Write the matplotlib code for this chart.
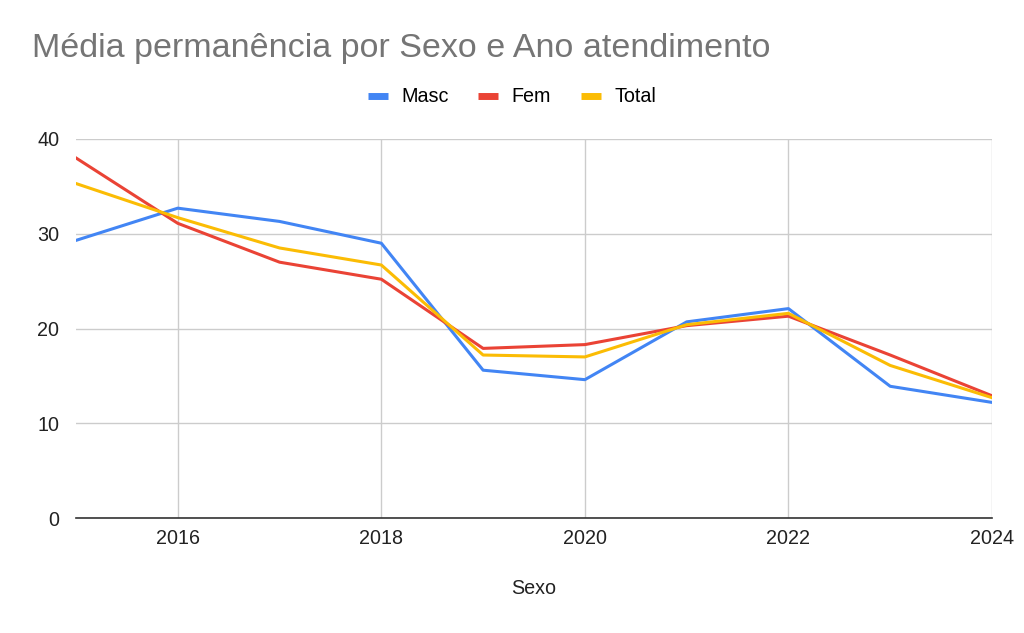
import matplotlib
matplotlib.use('Agg')
import matplotlib.pyplot as plt
from matplotlib.lines import Line2D

years = [2015, 2016, 2017, 2018, 2019, 2020, 2021, 2022, 2023, 2024]
masc = [29.3, 32.7, 31.3, 29.0, 15.6, 14.6, 20.7, 22.1, 13.9, 12.2]
fem = [38.0, 31.1, 27.0, 25.2, 17.9, 18.3, 20.3, 21.3, 17.2, 12.9]
total = [35.3, 31.7, 28.5, 26.7, 17.2, 17.0, 20.4, 21.6, 16.1, 12.7]

xticks = [2016, 2018, 2020, 2022, 2024]
yticks = [0, 10, 20, 30, 40]

c_masc = '#4285F4'
c_fem = '#EA4335'
c_total = '#FBBC04'

plt.rcParams['font.family'] = ['Liberation Sans', 'DejaVu Sans']

fig = plt.figure(figsize=(10.24, 6.33), dpi=100)
ax = fig.add_axes([76/1024, 1-518/633, (992-76)/1024, (518-139)/633])

ax.plot(years, masc, color=c_masc, lw=2.2, zorder=3)
ax.plot(years, fem, color=c_fem, lw=2.2, zorder=3)
ax.plot(years, total, color=c_total, lw=2.2, zorder=4)

ax.set_xlim(2015, 2024)
ax.set_ylim(0, 40)
ax.set_xticks(xticks)
ax.set_yticks(yticks)
ax.grid(True, color='#cccccc', lw=1.0)
ax.set_axisbelow(True)
for s in ['top', 'right', 'left']:
    ax.spines[s].set_visible(False)
ax.spines['bottom'].set_color('#333333')
ax.spines['bottom'].set_linewidth(1.2)
ax.spines['bottom'].set_zorder(5)
ax.tick_params(axis='both', length=0, labelsize=14.2, colors='#222222')
ax.tick_params(axis='x', pad=8)
ax.tick_params(axis='y', pad=12)
ax.set_xlabel('Sexo', fontsize=14.2, color='#222222', labelpad=22)

fig.text(32/1024, 1-48/633, 'Média permanência por Sexo e Ano atendimento',
         fontsize=24.5, color='#757575', va='center', ha='left')

handles = [Line2D([], [], color=c, lw=5, solid_capstyle='butt') for c in (c_masc, c_fem, c_total)]
fig.legend(handles, ['Masc', 'Fem', 'Total'], loc='center', bbox_to_anchor=(512/1024, 1-97/633),
           ncol=3, frameon=False, fontsize=14.2, handlelength=1.0, handletextpad=0.7,
           columnspacing=1.5)

fig.savefig('out.png', dpi=100)
